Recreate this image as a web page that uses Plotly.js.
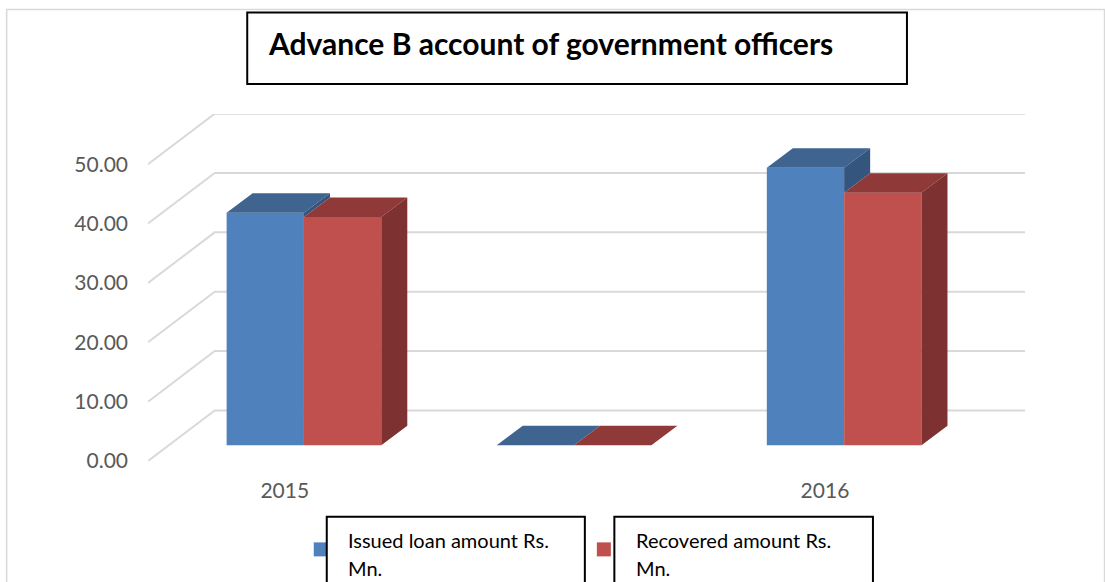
<!DOCTYPE html>
<html><head><meta charset="utf-8">
<script src="https://cdn.plot.ly/plotly-3.0.1.min.js"></script>
<style>html,body{margin:0;padding:0;background:#fff;overflow:hidden}</style>
</head><body><div id="chart" style="width:1105px;height:582px"></div>
<script>
const categories = ["2015", "", "2016"];
const issued = [39.17, 0, 46.76];
const recovered = [38.45, 0, 42.55];
const yTicks = [0, 10, 20, 30, 40, 50];
const chartTitle = "Advance B account of government officers";
const legendIssued = ["Issued loan amount Rs.", "Mn."];
const legendRecovered = ["Recovered amount Rs.", "Mn."];

const W = 1105, H = 582, L = 148.3, R = 1025, T = 114, B = 460.7;
const xMin = -0.5774, xMax = 2.6696, yMax = 58.46;
const barW = 0.2863, base = 2.65, depthX = 0.0963, depthY = 3.29, wallX = 0.247, wallY = 8.52;
const px = v => (v - L) / (R - L), py = v => (B - v) / (B - T);
const xs = categories.map((_, i) => i);

function faces(values, lefts, bottoms) {
  const top = {x: [], y: []}, side = {x: [], y: []};
  values.forEach((v, i) => {
    const a = lefts[i], b = a + barW, t = base + v, s = base + bottoms[i];
    top.x.push(a, b, b + depthX, a + depthX, a, null);
    top.y.push(t, t, t + depthY, t + depthY, t, null);
    side.x.push(b, b + depthX, b + depthX, b, b, null);
    side.y.push(t, t + depthY, s + depthY, s, t, null);
  });
  return {top, side};
}
const poly = (f, color) => ({type: "scatter", mode: "lines", x: f.x, y: f.y, fill: "toself", fillcolor: color,
  line: {width: 0, color: color}, hoverinfo: "skip", showlegend: false});
const bar = (y, color, name) => ({type: "bar", x: xs, y: y, base: base, name: name,
  marker: {color: color, line: {width: 0}}, showlegend: false});

const bFaces = faces(issued, xs.map(i => i - barW), issued.map((v, i) => Math.min(v, recovered[i])));
const rFaces = faces(recovered, xs.map(i => i), recovered.map(() => 0));

const data = [
  bar(issued, "#4F81BD", legendIssued.join(" ")),
  bar(recovered, "#C0504D", legendRecovered.join(" ")),
  poly(bFaces.top, "#3F648F"),
  poly(bFaces.side, "#34557D"),
  poly(rFaces.top, "#8F3A38"),
  poly(rFaces.side, "#7D3130")
];

const shapes = yTicks.map(v => ({type: "path", layer: "below", xref: "x", yref: "y",
  path: `M ${xMin},${v} L ${xMin + wallX},${v + wallY} L ${xMax},${v + wallY}`,
  line: {color: "#D9D9D9", width: 2}}));
const box = (x0, y0, x1, y1, line, fill, layer) => ({type: "rect", xref: "paper", yref: "paper", layer: layer || "above",
  x0: px(x0), x1: px(x1), y0: py(y0), y1: py(y1), line: line, fillcolor: fill});
const black = {color: "#000", width: 2};
const none = {width: 0};
shapes.push(
  box(7, 9.5, 1104.5, 640, {color: "#D9D9D9", width: 1.5}, "rgba(0,0,0,0)"),
  box(247.5, 12.5, 907, 84, black, "#fff"),
  box(314, 542, 328, 556, none, "#4F81BD"),
  box(597, 542, 611, 556, none, "#C0504D"),
  box(327, 516.5, 585, 640, black, "#fff"),
  box(614.5, 516.5, 873, 640, black, "#fff")
);
const note = (text, x, y, size, extra) => Object.assign({text, showarrow: false, xref: "paper", yref: "paper",
  x: px(x), y: py(y), xanchor: "left", yanchor: "middle", font: {family: "Lato", size, color: "#000"}}, extra || {});
const annotations = [
  note("<b>" + chartTitle + "</b>", 266, 43, 30),
  note(legendIssued[0], 346, 540, 20), note(legendIssued[1], 346, 568, 20),
  note(legendRecovered[0], 634, 540, 20), note(legendRecovered[1], 634, 568, 20)
];

const layout = {
  width: W, height: H, paper_bgcolor: "#fff", plot_bgcolor: "rgba(0,0,0,0)",
  margin: {l: L, r: W - R, t: T, b: H - B, pad: 0, autoexpand: false},
  barmode: "group", bargap: 1 - 2 * barW, bargroupgap: 0, showlegend: false,
  xaxis: {type: "linear", range: [xMin, xMax], showgrid: false, zeroline: false, showline: false,
    tickmode: "array", tickvals: xs.filter(i => categories[i]).map(i => i - 0.071),
    ticktext: categories.filter(c => c), ticks: "", ticklabelstandoff: 15,
    tickfont: {family: "Lato", size: 21, color: "#595959"}},
  yaxis: {range: [0, yMax], showgrid: false, zeroline: false, showline: false,
    tickmode: "array", tickvals: yTicks, ticktext: yTicks.map(v => v.toFixed(2)), ticks: "", ticklabelstandoff: 19,
    tickfont: {family: "Lato", size: 21, color: "#595959"}},
  shapes, annotations
};
Plotly.newPlot("chart", data, layout, {staticPlot: true, displayModeBar: false});
</script></body></html>
